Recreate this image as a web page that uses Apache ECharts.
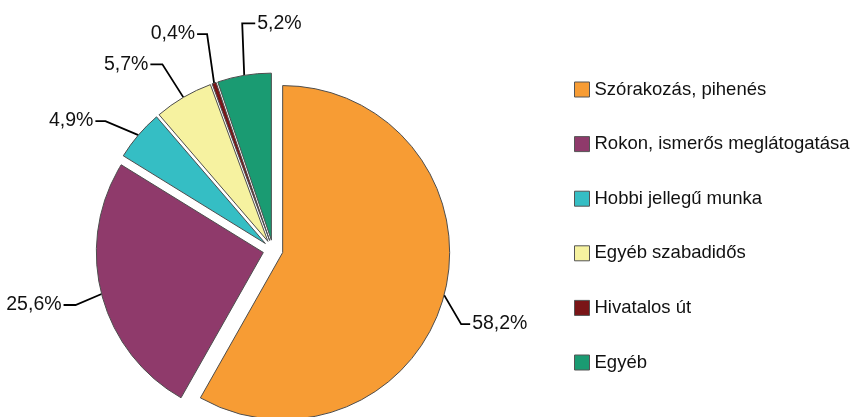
<!DOCTYPE html>
<html>
<head>
<meta charset="utf-8">
<script src="https://cdn.jsdelivr.net/npm/echarts@6/dist/echarts.min.js"></script>
<style>
  html, body { margin: 0; padding: 0; background: #fff; }
  #main { width: 853px; height: 417px; }
</style>
</head>
<body>
<div id="main"></div>
<script>
// kategóriák és értékek (%)
const categories = ['Szórakozás, pihenés', 'Rokon, ismerős meglátogatása', 'Hobbi jellegű munka', 'Egyéb szabadidős', 'Hivatalos út', 'Egyéb']
const values = [58.2, 25.6, 4.9, 5.7, 0.4, 5.2]
const colors = ['#F79C34', '#8F3A6B', '#35BEC4', '#F6F2A0', '#7A1517', '#1A9B72']

// vezetővonalak törése a szelet szélétől mérve: [töréspont dx, dy, vég dx]
const leaderShift = [[17, 29, 26], [-26, 11, -38], [-33, -14, -43], [-21, -33, -33], [-7, -49, -17], [-2, -52, 11]]

const myChart = echarts.init(document.getElementById('main'))

const pieData = categories.map((name, i) => ({
  name: name,
  value: values[i],
  selected: true,
  itemStyle: { color: colors[i] }
}))

const option = {
  animation: false,
  legend: {
    orient: 'vertical',
    left: 569,
    top: 75,
    itemWidth: 15,
    itemHeight: 15,
    itemGap: 35.6,
    icon: 'rect',
    selectedMode: false,
    itemStyle: { borderColor: '#555', borderWidth: 1 },
    textStyle: {
      fontFamily: 'Liberation Sans, Arial, sans-serif',
      fontSize: 18.5,
      color: '#111'
    },
    data: categories
  },
  series: [
    {
      type: 'pie',
      center: [273, 250],
      radius: 167,
      startAngle: 90,
      clockwise: true,
      selectedMode: 'multiple',
      selectedOffset: 10,
      avoidLabelOverlap: false,
      emphasis: { scale: false },
      itemStyle: { borderColor: '#4d4d4d', borderWidth: 1 },
      label: {
        show: true,
        position: 'outside',
        formatter: p => p.value.toFixed(1).replace('.', ',') + '%',
        fontFamily: 'Liberation Sans, Arial, sans-serif',
        fontSize: 19.5,
        color: '#111',
        distanceToLabelLine: 2
      },
      labelLine: {
        show: true,
        length: 18,
        length2: 12,
        lineStyle: { color: '#000', width: 1.8 }
      },
      labelLayout: function (params) {
        const s = leaderShift[params.dataIndex]
        const pts = params.labelLinePoints
        const p0 = pts[0]
        const p2 = pts[2]
        const defLeft = p2[0] < pts[1][0]
        const elbow = [p0[0] + s[0], p0[1] + s[1]]
        const end = [p0[0] + s[2], elbow[1]]
        const right = s[2] > s[0]
        let dx = end[0] - p2[0]
        if (defLeft && right) dx += 4
        if (!defLeft && !right) dx -= 4
        return {
          dx: dx,
          dy: end[1] - p2[1],
          align: right ? 'left' : 'right',
          labelLinePoints: [p0, elbow, end]
        }
      },
      data: pieData
    }
  ]
}

myChart.setOption(option)
</script>
</body>
</html>
